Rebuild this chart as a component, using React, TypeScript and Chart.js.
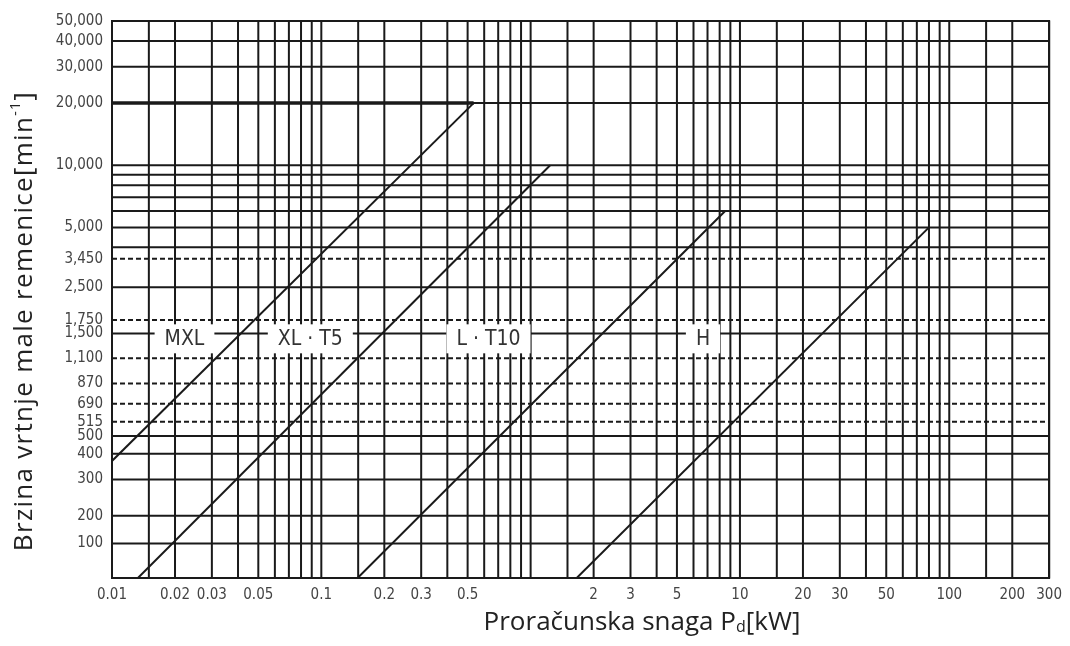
import React, { useEffect, useRef } from "react";
import { Chart, registerables } from "chart.js";

Chart.register(...registerables);

// ---- axis ranges ----
const X_MIN = 0.01;
const X_MAX = 300;
const Y_MIN = 100;
const Y_MAX = 50000;

// ---- x axis grid/tick values and labels ----
const X_TICK_VALUES = [
  0.01, 0.015, 0.02, 0.03, 0.04, 0.05, 0.06, 0.07, 0.08, 0.09,
  0.1, 0.15, 0.2, 0.3, 0.4, 0.5, 0.6, 0.7, 0.8, 0.9,
  1, 1.5, 2, 3, 4, 5, 6, 7, 8, 9,
  10, 15, 20, 30, 40, 50, 60, 70, 80, 90,
  100, 150, 200, 300,
];
const X_TICK_LABELS = [
  "0.01", "", "0.02", "0.03", "", "0.05", "", "", "", "",
  "0.1", "", "0.2", "0.3", "", "0.5", "", "", "", "",
  "", "", "2", "3", "", "5", "", "", "", "",
  "10", "", "20", "30", "", "50", "", "", "", "",
  "100", "", "200", "300",
];

// ---- y axis grid/tick values (as placed in the picture) and labels ----
const Y_TICK_VALUES = [
  147, 200, 300, 400, 488, 571, 698, 876, 1160, 1530, 1780, 2560, 3520,
  4000, 5000, 6000, 7000, 8000, 9000, 10000, 20000, 30000, 40000, 50000,
];
const Y_TICK_LABELS = [
  "100", "200", "300", "400", "500", "515", "690", "870", "1,100", "1,500",
  "1,750", "2,500", "3,450", "", "5,000", "", "", "", "", "10,000",
  "20,000", "30,000", "40,000", "50,000",
];
const Y_TICK_DASHED = [
  false, false, false, false, false, true, true, true, true, false,
  true, false, true, false, false, false, false, false, false, false,
  false, false, false, false,
];

// ---- belt series (power kW vs speed min^-1) ----
const MXL_X = [0.01, 0.534];
const MXL_Y = [369, 20000];
const MXL_CAP_X = [0.01, 0.534];
const MXL_CAP_Y = [20000, 20000];
const XL_T5_X = [0.0133, 1.24];
const XL_T5_Y = [100, 10000];
const L_T10_X = [0.149, 8.5];
const L_T10_Y = [100, 6000];
const H_X = [1.66, 80];
const H_Y = [100, 5000];

// ---- belt labels ----
const BELT_NAMES = ["MXL", "XL · T5", "L · T10", "H"];
const BELT_LABEL_X = [0.0222, 0.0886, 0.629, 6.66];
const BELT_LABEL_Y = [1450, 1450, 1450, 1450];

const toPoints = (xs: number[], ys: number[]) => xs.map((x, i) => ({ x, y: ys[i] }));

const NARROW = "'Liberation Sans Narrow', 'DejaVu Sans Condensed', 'Liberation Sans', sans-serif";
const TITLE_FONT = "'Open Sans', 'Noto Sans', sans-serif";
const INK = "#1a1a1a";

type Run = { text: string; size: number; dy: number };

function drawRuns(ctx: CanvasRenderingContext2D, runs: Run[], cx: number, cy: number, spacing: number) {
  (ctx as any).letterSpacing = `${spacing}px`;
  let total = 0;
  const widths = runs.map((r) => {
    ctx.font = `${r.size}px ${TITLE_FONT}`;
    const w = ctx.measureText(r.text).width;
    total += w;
    return w;
  });
  let x = cx - total / 2;
  ctx.textAlign = "left";
  ctx.textBaseline = "middle";
  runs.forEach((r, i) => {
    ctx.font = `${r.size}px ${TITLE_FONT}`;
    ctx.fillText(r.text, x, cy + r.dy);
    x += widths[i];
  });
  (ctx as any).letterSpacing = "0px";
}

const gridPlugin = {
  id: "customGrid",
  beforeDatasetsDraw(chart: any) {
    const { ctx, chartArea } = chart;
    const xs = chart.scales.x;
    const ys = chart.scales.y;
    ctx.save();
    ctx.strokeStyle = INK;
    ctx.lineWidth = 2;
    // vertical lines
    X_TICK_VALUES.forEach((v) => {
      const px = xs.getPixelForValue(v);
      ctx.setLineDash([]);
      ctx.beginPath();
      ctx.moveTo(px, chartArea.top);
      ctx.lineTo(px, chartArea.bottom);
      ctx.stroke();
    });
    // horizontal lines
    Y_TICK_VALUES.forEach((v, i) => {
      const py = ys.getPixelForValue(v);
      ctx.setLineDash(Y_TICK_DASHED[i] ? [5, 3] : []);
      ctx.beginPath();
      ctx.moveTo(chartArea.left, py);
      ctx.lineTo(chartArea.right, py);
      ctx.stroke();
    });
    // frame
    ctx.setLineDash([]);
    ctx.strokeRect(chartArea.left, chartArea.top, chartArea.right - chartArea.left, chartArea.bottom - chartArea.top);

    // belt labels with white boxes
    ctx.font = `21px ${NARROW}`;
    ctx.textAlign = "center";
    ctx.textBaseline = "middle";
    BELT_NAMES.forEach((name, i) => {
      const px = xs.getPixelForValue(BELT_LABEL_X[i]);
      const py = ys.getPixelForValue(BELT_LABEL_Y[i]);
      const w = ctx.measureText(name).width + 20;
      ctx.fillStyle = "#ffffff";
      ctx.fillRect(px - w / 2, py - 14, w, 29);
      ctx.fillStyle = "#333333";
      ctx.fillText(name, px, py + 1);
    });
    ctx.restore();
  },
  afterDraw(chart: any) {
    const { ctx } = chart;
    ctx.save();
    ctx.fillStyle = "#222222";
    drawRuns(
      ctx,
      [
        { text: "Proračunska snaga P", size: 26, dy: 0 },
        { text: "d", size: 16, dy: 4 },
        { text: "[kW]", size: 26, dy: 0 },
      ],
      642,
      623,
      0
    );
    ctx.translate(25, 321);
    ctx.rotate(-Math.PI / 2);
    drawRuns(
      ctx,
      [
        { text: "Brzina vrtnje male remenice[min", size: 26, dy: 0 },
        { text: "-1", size: 14, dy: -9 },
        { text: "]", size: 26, dy: 0 },
      ],
      0,
      0,
      1.3
    );
    ctx.restore();
  },
};

export default function App() {
  const ref = useRef<HTMLCanvasElement | null>(null);

  useEffect(() => {
    if (!ref.current) return;
    const lineStyle = {
      borderColor: INK,
      borderWidth: 2,
      pointRadius: 0,
      fill: false,
      tension: 0,
    };
    const chart = new Chart(ref.current, {
      type: "line",
      data: {
        datasets: [
          { label: "MXL", data: toPoints(MXL_X, MXL_Y), ...lineStyle },
          { label: "MXL cap", data: toPoints(MXL_CAP_X, MXL_CAP_Y), ...lineStyle, borderWidth: 3.5 },
          { label: "XL · T5", data: toPoints(XL_T5_X, XL_T5_Y), ...lineStyle },
          { label: "L · T10", data: toPoints(L_T10_X, L_T10_Y), ...lineStyle },
          { label: "H", data: toPoints(H_X, H_Y), ...lineStyle },
        ],
      },
      options: {
        responsive: false,
        animation: false,
        devicePixelRatio: 1,
        layout: { padding: { left: 0, top: 21, right: 17, bottom: 0 } },
        plugins: {
          legend: { display: false },
          tooltip: { enabled: false },
        },
        scales: {
          x: {
            type: "logarithmic",
            min: X_MIN,
            max: X_MAX,
            grid: { display: false, drawTicks: false },
            border: { display: false },
            afterBuildTicks: (scale: any) => {
              scale.ticks = X_TICK_VALUES.map((v) => ({ value: v }));
            },
            afterFit: (scale: any) => {
              scale.height = 68;
            },
            ticks: {
              autoSkip: false,
              maxRotation: 0,
              minRotation: 0,
              padding: 8,
              color: "#444444",
              font: { family: NARROW, size: 15 },
              callback: (_v: any, i: number) => X_TICK_LABELS[i],
            },
          },
          y: {
            type: "logarithmic",
            min: Y_MIN,
            max: Y_MAX,
            grid: { display: false, drawTicks: false },
            border: { display: false },
            afterBuildTicks: (scale: any) => {
              scale.ticks = Y_TICK_VALUES.map((v) => ({ value: v }));
            },
            afterFit: (scale: any) => {
              scale.width = 112;
            },
            ticks: {
              autoSkip: false,
              padding: 9,
              color: "#444444",
              font: { family: NARROW, size: 15 },
              callback: (_v: any, i: number) => Y_TICK_LABELS[i],
            },
          },
        },
      },
      plugins: [gridPlugin],
    } as any);
    return () => chart.destroy();
  }, []);

  return (
    <div style={{ position: "fixed", left: 0, top: 0, width: 1070, height: 646, background: "#fff" }}>
      <canvas ref={ref} width={1070} height={646} style={{ width: 1070, height: 646 }} />
    </div>
  );
}
